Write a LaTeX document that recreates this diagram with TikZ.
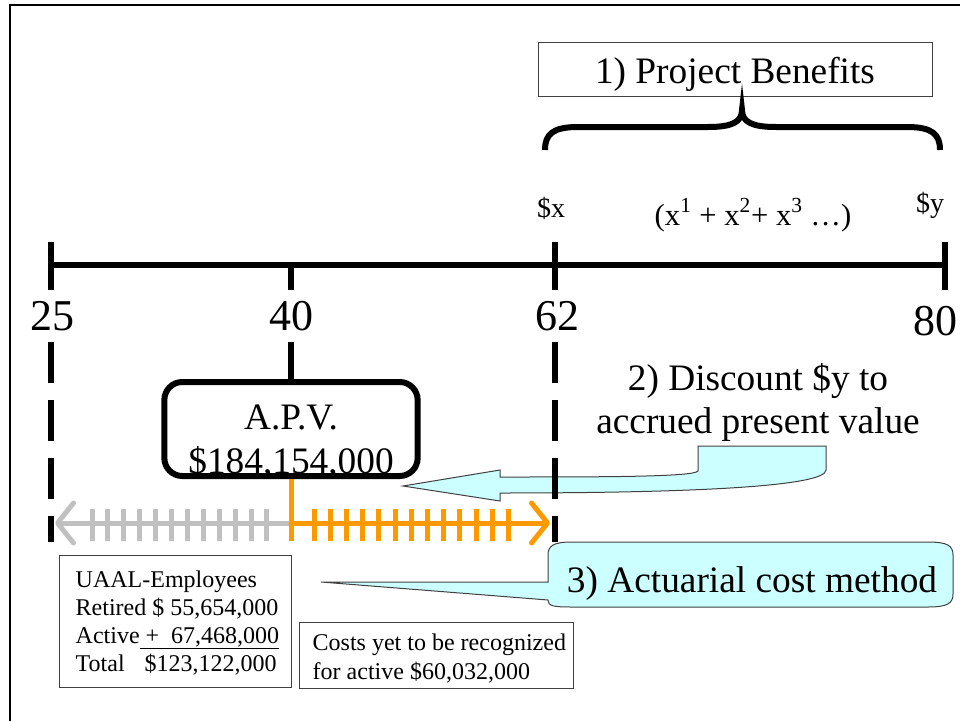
\documentclass[tikz,border=0pt]{standalone}
\usepackage{fontspec}
\setmainfont{Liberation Serif}
\usetikzlibrary{arrows.meta}
\definecolor{paleblue}{HTML}{CCFFFF}
\definecolor{accrued}{HTML}{FF9900}
\definecolor{past}{HTML}{C0C0C0}
\definecolor{thinline}{HTML}{404040}
\newcommand{\fsz}[1]{\fontsize{#1pt}{#1pt}\selectfont}
\begin{document}
\begin{tikzpicture}
[x=0.75pt,y=-0.75pt,
axis/.style={line width=4.5pt},
ageline/.style={line width=4.5pt,dash pattern=on 30.75pt off 12.75pt},
age/.style={anchor=base,font=\fsz{33}},
thinbox/.style={draw=thinline,line width=0.75pt,inner sep=0pt},
bubble/.style={fill=paleblue,draw=thinline,line width=0.75pt},
yearline/.style={line width=3.75pt,line cap=round,line join=round},
yeartick/.style={line width=3.75pt},
barb/.style={-{Straight Barb[length=12pt,width=30pt,round]}}]
\useasboundingbox (0,0) rectangle (960,721);
%%
% frame
%%
\draw[line width=1.5pt] (10,721) -- (10,5) -- (960,5);
%%
% time axis
%%
\coordinate (a25) at (51,265);
\coordinate (a40) at (291,265);
\coordinate (a62) at (555,265);
\coordinate (a80) at (945,265);
\draw[axis] (a25) -- (a80);
\foreach \p in {a25,a62,a80}
  \draw[axis] (\p)+(0,-23) -- +(0,25);
\draw[axis] (a40) -- +(0,25);
\node[age] (l25) at (52,330) {25};
\node[age] (l40) at (291,330) {40};
\node[age] (l62) at (557,330) {62};
\node[age] (l80) at (935,335) {80};
%%
% benefits
%%
\node[thinbox,minimum width=295.5pt,minimum height=40.5pt] (ben) at (735,69) {};
\node[anchor=base,font=\fsz{28}] (bentxt) at (735,83) {1) Project Benefits};
\draw[line width=4.5pt]
(545,150) .. controls (545,134) and (553,127) .. (578,127) -- (708,127)
.. controls (732,127) and (742,122) .. (742,110)
.. controls (742,122) and (752,127) .. (776,127) -- (907,127)
.. controls (932,127) and (940,134) .. (940,150);
\node[anchor=base,font=\fsz{21}] (sx) at (551,217) {\$x};
\node[anchor=base,font=\fsz{21}] (sy) at (930,212) {\$y};
\node[anchor=base,font=\fsz{23}] (series) at (753,225)
{(x\textsuperscript{1} + x\textsuperscript{2}+ x\textsuperscript{3} \ldots)};
%%
% discount arrow
%%
\draw[bubble] (403,486) -- (500,470) -- (500,477)
.. controls (600,477) and (694,477) .. (698,471) -- (698,446) -- (826,446) -- (826,470)
.. controls (826,486) and (700,493) .. (500,493) -- (500,501) -- cycle;
\node[anchor=base,font=\fsz{28}] (disc1) at (758,390) {2) Discount \$y to};
\node[anchor=base,font=\fsz{28}] (disc2) at (758,433) {accrued present value};
%%
% dashed age lines
%%
\draw[ageline] (51,342) -- (51,542);
\draw[ageline] (555,342) -- (555,542);
\node[draw,line width=4.5pt,rounded corners=13.5pt,minimum width=190pt,minimum height=70.5pt]
(apv) at (291,429) {};
\draw[axis] (291,342) -- (apv.north);
\node[anchor=base,font=\fsz{28}] (apv1) at (291,429) {A.P.V.};
\node[anchor=base,font=\fsz{28}] (apv2) at (291,473) {\$184,154,000};
%%
% service years
%%
\coordinate (split) at (291,523);
\coordinate (pastend) at (55,523);
\coordinate (futend) at (550,523);
\draw[yearline,past,barb] (split) -- (pastend);
\foreach \i in {0,...,11}
  \draw[yeartick,past] ({92+15.9*\i},509) -- ++(0,32);
\draw[yearline,accrued,barb] (split) -- (futend);
\foreach \i in {0,...,12}
  \draw[yeartick,accrued] ({314+16.2*\i},509) -- ++(0,32);
\draw[yeartick,accrued] (apv.south) -- (apv.south|-0,541);
%%
% cost method
%%
\draw[bubble] (548,600) .. controls (548,606) and (553,607) .. (572,607) -- (928,607)
.. controls (948,607) and (953,603) .. (953,594) -- (953,555)
.. controls (953,546) and (948,542) .. (928,542) -- (572,542)
.. controls (553,542) and (548,546) .. (548,555) -- (548,582) -- (321,582) -- cycle;
\node[anchor=base,font=\fsz{28}] (acm) at (752,592) {3) Actuarial cost method};
%%
% UAAL and costs
%%
\node[thinbox,minimum width=174pt,minimum height=99pt] (uaal) at (175,621) {};
\begin{scope}[every node/.style={anchor=base west,font=\fsz{18}}]
\node (u1) at (71,587) {UAAL-Employees};
\node (u2) at (71,615) {Retired \$ 55,654,000};
\node (u3) at (71,643) {Active\underline{ +\ \ 67,468,000}};
\node (u4) at (71,671) {Total\hspace{15pt}\$123,122,000};
\end{scope}
\node[thinbox,minimum width=205.5pt,minimum height=49.5pt] (cost) at (436,655) {};
\begin{scope}[every node/.style={anchor=base west,font=\fsz{18}}]
\node (c1) at (308,650) {Costs yet to be recognized};
\node (c2) at (308,679) {for active \$60,032,000};
\end{scope}
\end{tikzpicture}
\end{document}
